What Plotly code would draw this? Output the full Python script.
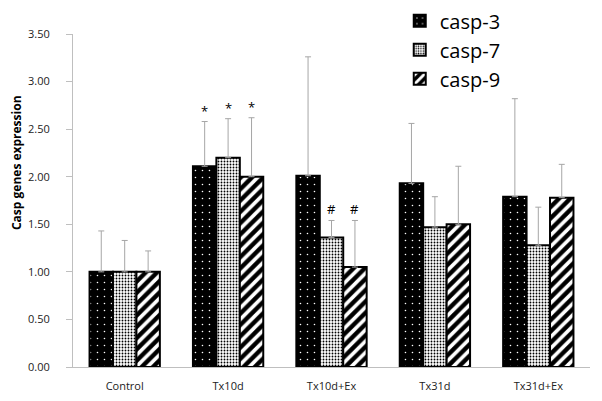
import plotly.graph_objects as go

categories = ["Control", "Tx10d", "Tx10d+Ex", "Tx31d", "Tx31d+Ex"]
series_names = ["casp-3", "casp-7", "casp-9"]
casp3 = [1.00, 2.11, 2.01, 1.93, 1.79]
casp7 = [1.00, 2.20, 1.36, 1.47, 1.28]
casp9 = [1.00, 2.00, 1.05, 1.50, 1.78]
casp3_err = [0.43, 0.47, 1.25, 0.63, 1.03]
casp7_err = [0.33, 0.41, 0.18, 0.32, 0.40]
casp9_err = [0.22, 0.62, 0.49, 0.61, 0.35]
marks = [  # (category index, series index, symbol)
    (1, 0, "*"), (1, 1, "*"), (1, 2, "*"),
    (2, 1, "#"), (2, 2, "#"),
]
y_ticks = [0, 0.5, 1, 1.5, 2, 2.5, 3, 3.5]
y_title = "Casp genes expression"

values = [casp3, casp7, casp9]
errors = [casp3_err, casp7_err, casp9_err]
patterns = [
    dict(shape=".", bgcolor="black", fgcolor="white", size=7, solidity=0.04, fillmode="replace"),
    dict(shape=".", bgcolor="white", fgcolor="black", size=3, solidity=0.3, fillmode="replace"),
    dict(shape="/", bgcolor="black", fgcolor="white", size=8, solidity=0.45, fillmode="replace"),
]

fig = go.Figure()
for name, v, e, p in zip(series_names, values, errors, patterns):
    fig.add_trace(go.Bar(
        x=list(range(len(categories))), y=v, name=name,
        marker=dict(color="black", pattern=p, line=dict(color="black", width=2)),
        error_y=dict(type="data", array=e, arrayminus=[0] * len(e), symmetric=False,
                     color="#a6a6a6", thickness=1, width=3),
    ))

bargap = 0.32
bw = (1 - bargap) / 3
for ci, si, sym in marks:
    top = values[si][ci] + errors[si][ci]
    fig.add_annotation(x=ci + (si - 1) * bw, y=top, text=sym, showarrow=False,
                       yanchor="bottom", yshift=0,
                       font=dict(size=13, color="black", family="Open Sans"))

fig.add_annotation(xref="paper", yref="paper", x=-0.108, y=0.613, text="<b>" + y_title + "</b>",
                   textangle=-90, showarrow=False, xanchor="center", yanchor="middle",
                   font=dict(size=12, color="#000", family="Open Sans"))

fig.update_layout(
    width=602, height=401,
    margin=dict(l=65, r=20, t=26, b=42, autoexpand=False),
    paper_bgcolor="white", plot_bgcolor="white",
    barmode="group", bargap=bargap, bargroupgap=0,
    font=dict(family="Open Sans", color="#222222"),
    legend=dict(x=0.632, y=1.098, xref="paper", yref="paper", xanchor="left", yanchor="top",
                font=dict(size=20, color="black", family="Open Sans"),
                bgcolor="rgba(0,0,0,0)", itemwidth=30),
    xaxis=dict(tickmode="array", tickvals=list(range(len(categories))), ticktext=categories,
               range=[-0.5, len(categories) - 0.5], showline=True, linecolor="#bfbfbf",
               linewidth=1, ticks="", ticklabelstandoff=9, tickfont=dict(size=11, color="#222")),
    yaxis=dict(range=[0, 3.5], tickvals=y_ticks, tickformat=".2f", showgrid=False,
               showline=True, linecolor="#bfbfbf", linewidth=1, ticks="outside",
               ticklen=6, tickcolor="#bfbfbf", zeroline=False, ticklabelstandoff=14,
               tickfont=dict(size=11, color="#222")),
)

fig.write_html("out.html")
